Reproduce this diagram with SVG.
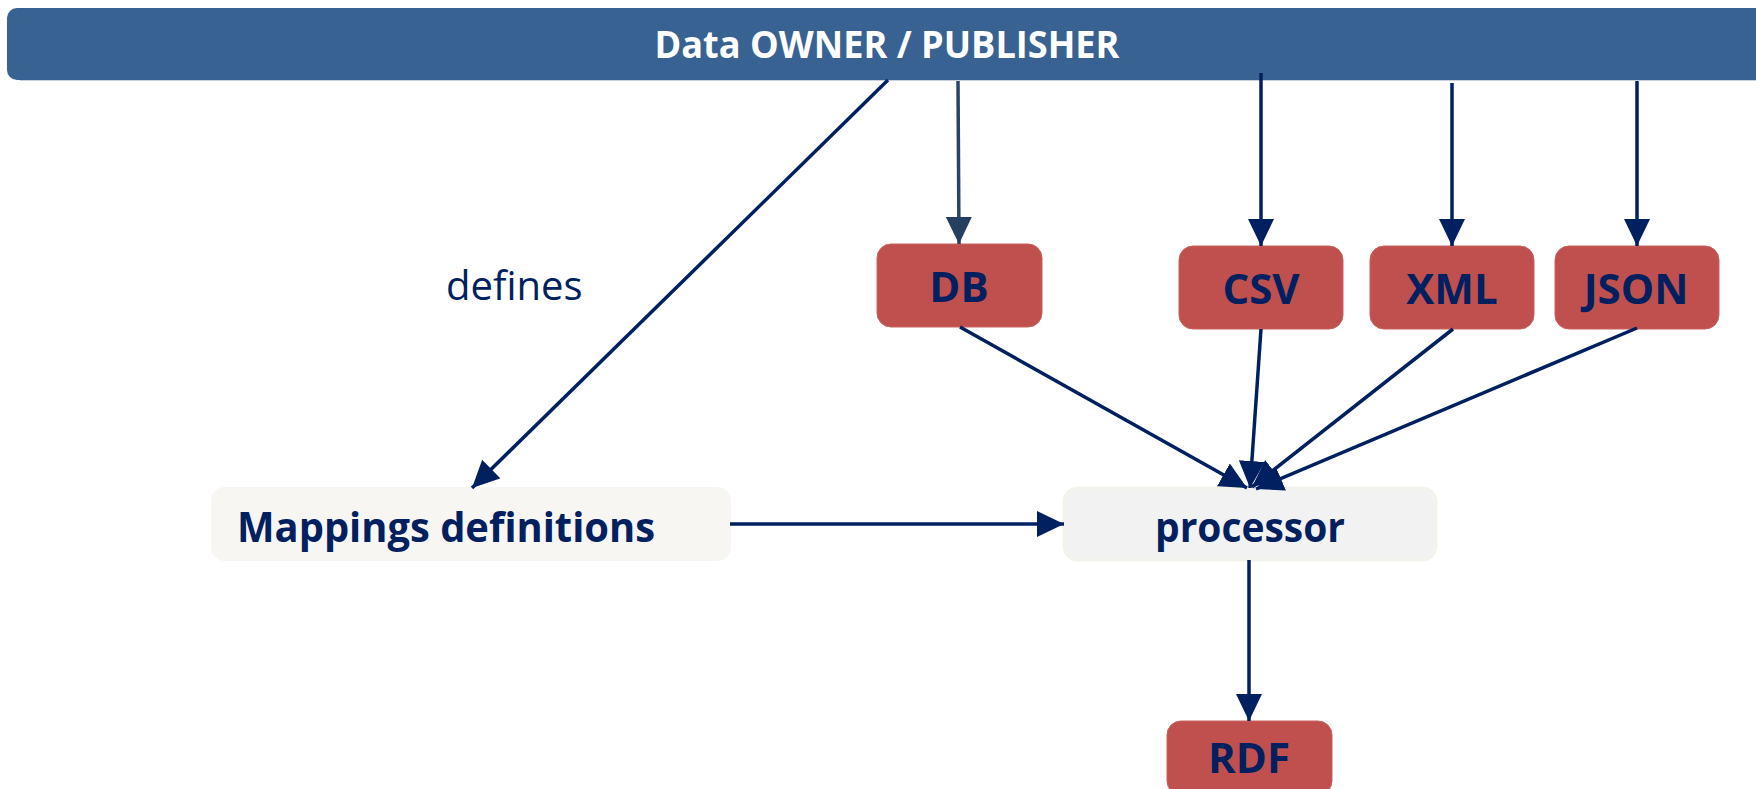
<svg xmlns="http://www.w3.org/2000/svg" width="1756" height="789" viewBox="0 0 1756 789">
  <style>
    .banner { fill: #386292; }
    .src { fill: #C0504D; stroke: #C9625F; stroke-width: 1; }
    .map { fill: #F7F6F3; }
    .proc { fill: #F2F2F2; stroke: #F4F2EC; stroke-width: 3; }
    .lbl { font-family: "Open Sans", "Noto Sans", sans-serif; font-weight: bold; font-size: 42px; fill: #002060; text-anchor: middle; }
    .title { font-family: "Open Sans", "Noto Sans", sans-serif; font-weight: bold; font-size: 38px; fill: #FFFFFF; text-anchor: middle; }
    .note { font-family: "Open Sans", "Noto Sans", sans-serif; font-size: 40px; fill: #002060; }
    .edge { stroke: #002060; stroke-width: 3.5; fill: none; marker-end: url(#head); }
    .edge-db { stroke: #2A4468; stroke-width: 3.5; fill: none; marker-end: url(#head-db); }
  </style>
  <defs>
    <marker id="head" markerUnits="userSpaceOnUse" markerWidth="28" markerHeight="28" refX="27" refY="13" orient="auto">
      <path d="M0,0 L27,13 L0,26 z" fill="#002060"/>
    </marker>
    <marker id="head-db" markerUnits="userSpaceOnUse" markerWidth="28" markerHeight="28" refX="27" refY="13" orient="auto">
      <path d="M0,0 L27,13 L0,26 z" fill="#263E60"/>
    </marker>
  </defs>

  <rect width="1756" height="789" fill="#FFFFFF"/>

  <g id="owner">
    <rect class="banner" x="7" y="8" width="1770" height="72" rx="10"/>
    <line x1="20" y1="80.5" x2="1756" y2="80.5" stroke="#C9D3E0" stroke-width="1"/>
    <text class="title" x="887" y="58" textLength="465" lengthAdjust="spacingAndGlyphs">Data OWNER / PUBLISHER</text>
  </g>

  <g id="db">
    <rect class="src" x="877" y="244" width="165" height="83" rx="14"/>
    <text class="lbl" x="959" y="302">DB</text>
  </g>
  <g id="csv">
    <rect class="src" x="1179" y="246" width="164" height="83" rx="14"/>
    <text class="lbl" x="1261" y="304">CSV</text>
  </g>
  <g id="xml">
    <rect class="src" x="1370" y="246" width="164" height="83" rx="14"/>
    <text class="lbl" x="1452" y="304">XML</text>
  </g>
  <g id="json">
    <rect class="src" x="1555" y="246" width="164" height="83" rx="14"/>
    <text class="lbl" x="1636" y="304">JSON</text>
  </g>

  <g id="mappings">
    <rect class="map" x="211" y="487" width="520" height="74" rx="14"/>
    <text class="lbl" x="446" y="542" textLength="418" lengthAdjust="spacingAndGlyphs">Mappings definitions</text>
  </g>

  <g id="processor">
    <rect class="proc" x="1064" y="488" width="372" height="72" rx="14"/>
    <text class="lbl" x="1250" y="542" textLength="190" lengthAdjust="spacingAndGlyphs">processor</text>
  </g>

  <g id="rdf">
    <rect class="src" x="1167" y="721" width="165" height="74" rx="14"/>
    <text class="lbl" x="1249" y="773">RDF</text>
  </g>

  <g id="defines-label">
    <text class="note" x="446" y="300">defines</text>
  </g>

  <g id="connectors">
    <line class="edge-db" x1="958" y1="81" x2="959" y2="244"/>
    <line class="edge" x1="1261" y1="73" x2="1261" y2="246"/>
    <line class="edge" x1="1452" y1="83" x2="1452" y2="246"/>
    <line class="edge" x1="1637" y1="81" x2="1637" y2="246"/>
    <line class="edge" x1="888" y1="80" x2="472" y2="488"/>
    <line class="edge" x1="730" y1="524" x2="1064" y2="524"/>
    <line class="edge" x1="960" y1="327" x2="1247" y2="488"/>
    <line class="edge" x1="1261" y1="329" x2="1250" y2="488"/>
    <line class="edge" x1="1453" y1="329" x2="1252" y2="487"/>
    <line class="edge" x1="1637" y1="328" x2="1256" y2="489"/>
    <line class="edge" x1="1249" y1="560" x2="1249" y2="721"/>
  </g>
</svg>
